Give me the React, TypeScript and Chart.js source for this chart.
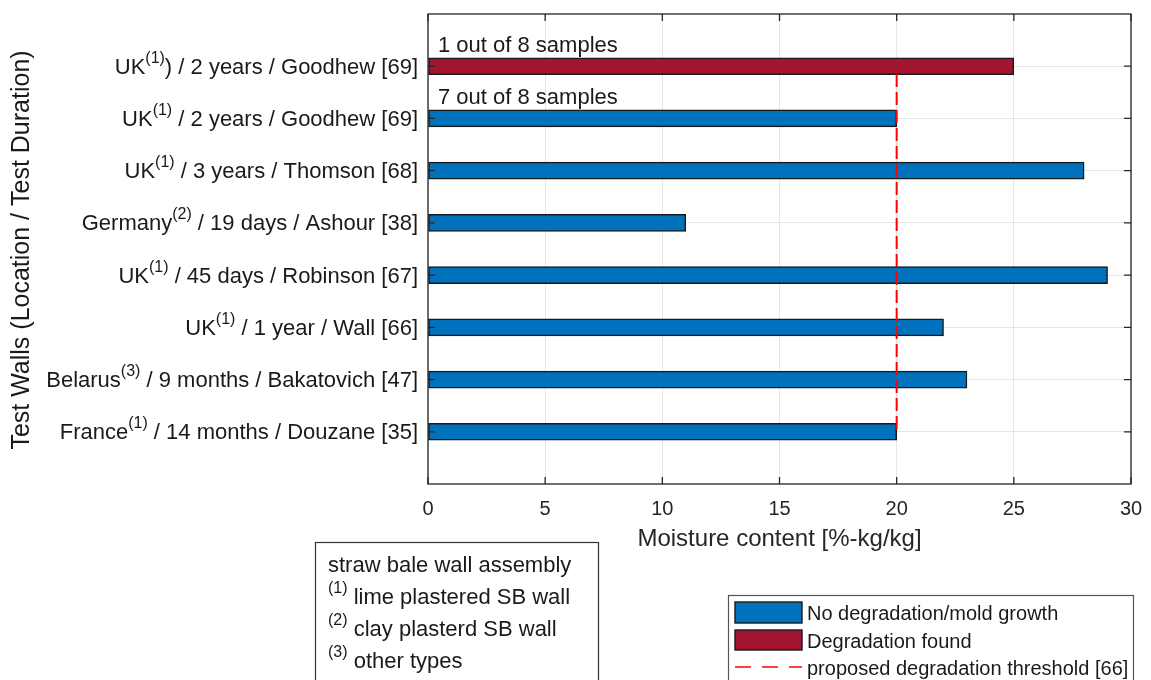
import React, { useEffect, useRef } from "react";
import { Chart, registerables } from "chart.js";

Chart.register(...registerables);

// ---- data ----
const labelBase = ["UK", "UK", "UK", "Germany", "UK", "UK", "Belarus", "France"];
const labelSup = ["(1)", "(1)", "(1)", "(2)", "(1)", "(1)", "(3)", "(1)"];
const labelRest = [
  ") / 2 years / Goodhew [69]",
  " / 2 years / Goodhew [69]",
  " / 3 years / Thomson [68]",
  " / 19 days / Ashour [38]",
  " / 45 days / Robinson [67]",
  " / 1 year / Wall [66]",
  " / 9 months / Bakatovich [47]",
  " / 14 months / Douzane [35]",
];
const moisture = [25, 20, 28, 11, 29, 22, 23, 20];
const degraded = [true, false, false, false, false, false, false, false];
const sampleNotes = ["1 out of 8 samples", "7 out of 8 samples", "", "", "", "", "", ""];
const xTickValues = [0, 5, 10, 15, 20, 25, 30];
const threshold = 20;
const thresholdSpan = [7.85, 1];
const noteTitle = "straw bale wall assembly";
const noteSup = ["(1)", "(2)", "(3)"];
const noteText = ["lime plastered SB wall", "clay plasterd SB wall", "other types"];
const legendLabels = [
  "No degradation/mold growth",
  "Degradation found",
  "proposed degradation threshold [66]",
];
const xTitle = "Moisture content [%-kg/kg]";
const yTitle = "Test Walls (Location / Test Duration)";

const BLUE = "#0072BD";
const RED = "#A2142F";
const TEXT = "#1a1a1a";
const FAMILY = '"Liberation Sans", Arial, Helvetica, sans-serif';
const N = labelBase.length;
const pos = (i: number) => N - i;

const font = (size: number) => `${size}px ${FAMILY}`;

function drawSup(
  ctx: CanvasRenderingContext2D,
  x: number,
  baseline: number,
  base: string,
  sup: string,
  rest: string,
  size: number,
  supSize: number,
  alignRight: boolean
) {
  ctx.font = font(size);
  const wBase = ctx.measureText(base).width;
  const wRest = ctx.measureText(rest).width;
  ctx.font = font(supSize);
  const wSup = ctx.measureText(sup).width;
  const total = wBase + wSup + wRest;
  let cx = alignRight ? x - total : x;
  ctx.textAlign = "left";
  ctx.textBaseline = "alphabetic";
  ctx.fillStyle = TEXT;
  ctx.font = font(size);
  ctx.fillText(base, cx, baseline);
  cx += wBase;
  ctx.font = font(supSize);
  ctx.fillText(sup, cx, baseline - 11);
  cx += wSup;
  ctx.font = font(size);
  ctx.fillText(rest, cx, baseline);
}

const decorPlugin = {
  id: "decor",
  afterDraw(chart: any) {
    const ctx: CanvasRenderingContext2D = chart.ctx;
    const area = chart.chartArea;
    const xs = chart.scales.x;
    const ys = chart.scales.y;
    ctx.save();

    // box around plot
    ctx.strokeStyle = "#262626";
    ctx.lineWidth = 1.3;
    ctx.setLineDash([]);
    ctx.strokeRect(area.left, area.top, area.right - area.left, area.bottom - area.top);

    // inward ticks
    ctx.beginPath();
    xTickValues.forEach((v) => {
      const px = xs.getPixelForValue(v);
      ctx.moveTo(px, area.bottom);
      ctx.lineTo(px, area.bottom - 7);
      ctx.moveTo(px, area.top);
      ctx.lineTo(px, area.top + 7);
    });
    labelBase.forEach((_, i) => {
      const py = ys.getPixelForValue(pos(i));
      ctx.moveTo(area.left, py);
      ctx.lineTo(area.left + 7, py);
      ctx.moveTo(area.right, py);
      ctx.lineTo(area.right - 7, py);
    });
    ctx.stroke();

    // y labels
    labelBase.forEach((b, i) => {
      const py = ys.getPixelForValue(pos(i));
      drawSup(ctx, area.left - 10, py + 7.5, b, labelSup[i], labelRest[i], 22, 16, true);
    });

    // sample notes
    ctx.font = font(22);
    ctx.fillStyle = TEXT;
    ctx.textAlign = "left";
    ctx.textBaseline = "alphabetic";
    sampleNotes.forEach((t, i) => {
      if (!t) return;
      const py = ys.getPixelForValue(pos(i));
      ctx.fillText(t, xs.getPixelForValue(0) + 10, py - 14);
    });

    // y title
    ctx.save();
    ctx.translate(22, 250);
    ctx.rotate(-Math.PI / 2);
    ctx.font = font(25);
    ctx.textAlign = "center";
    ctx.textBaseline = "middle";
    ctx.fillStyle = TEXT;
    ctx.fillText(yTitle, 0, 0);
    ctx.restore();

    // note box
    ctx.fillStyle = "#fff";
    ctx.fillRect(315.5, 542.5, 283, 200);
    ctx.strokeStyle = "#333";
    ctx.lineWidth = 1.2;
    ctx.strokeRect(315.5, 542.5, 283, 200);
    ctx.font = font(22);
    ctx.fillStyle = TEXT;
    ctx.textAlign = "left";
    ctx.fillText(noteTitle, 328, 572);
    noteSup.forEach((s, i) => {
      drawSup(ctx, 328, 604 + i * 32, "", s, " " + noteText[i], 22, 16, false);
    });

    // legend
    ctx.fillStyle = "#fff";
    ctx.fillRect(728.5, 595.5, 405, 120);
    ctx.strokeStyle = "#555";
    ctx.lineWidth = 1.2;
    ctx.strokeRect(728.5, 595.5, 405, 120);
    ctx.fillStyle = BLUE;
    ctx.fillRect(735, 602, 67, 21);
    ctx.strokeStyle = "#1a1a1a";
    ctx.lineWidth = 1.4;
    ctx.strokeRect(735, 602, 67, 21);
    ctx.fillStyle = RED;
    ctx.fillRect(735, 630, 67, 20);
    ctx.strokeRect(735, 630, 67, 20);
    ctx.strokeStyle = "#ff4040";
    ctx.lineWidth = 2;
    ctx.setLineDash([16, 11]);
    ctx.beginPath();
    ctx.moveTo(735, 667);
    ctx.lineTo(802, 667);
    ctx.stroke();
    ctx.setLineDash([]);
    ctx.font = font(20);
    ctx.fillStyle = TEXT;
    ctx.fillText(legendLabels[0], 807, 620);
    ctx.fillText(legendLabels[1], 807, 648);
    ctx.fillText(legendLabels[2], 807, 675);

    ctx.restore();
  },
};

export default function App() {
  const ref = useRef<HTMLCanvasElement | null>(null);
  useEffect(() => {
    if (!ref.current) return;
    const okData = moisture
      .map((v, i) => ({ x: v, y: pos(i), d: degraded[i] }))
      .filter((p) => !p.d)
      .map((p) => ({ x: p.x, y: p.y }));
    const badData = moisture
      .map((v, i) => ({ x: v, y: pos(i), d: degraded[i] }))
      .filter((p) => p.d)
      .map((p) => ({ x: p.x, y: p.y }));
    const chart = new Chart(ref.current, {
      type: "bar",
      data: {
        datasets: [
          {
            type: "line",
            label: legendLabels[2],
            data: thresholdSpan.map((y) => ({ x: threshold, y })),
            borderColor: "#ff0000",
            borderWidth: 2,
            borderDash: [13, 5],
            pointRadius: 0,
            order: 0,
          } as any,
          {
            label: legendLabels[0],
            data: okData,
            backgroundColor: BLUE,
            borderColor: "#1a1a1a",
            borderWidth: 1.5,
            borderSkipped: false,
            barThickness: 17,
            grouped: false,
            order: 1,
          } as any,
          {
            label: legendLabels[1],
            data: badData,
            backgroundColor: RED,
            borderColor: "#1a1a1a",
            borderWidth: 1.5,
            borderSkipped: false,
            barThickness: 17,
            grouped: false,
            order: 1,
          } as any,
        ],
      },
      options: {
        indexAxis: "y",
        animation: false,
        responsive: false,
        layout: { padding: { left: 0, right: 20, top: 14, bottom: 0 } },
        plugins: { legend: { display: false }, tooltip: { enabled: false } },
        scales: {
          x: {
            type: "linear",
            position: "bottom",
            min: 0,
            max: 30,
            afterBuildTicks: (s: any) => {
              s.ticks = xTickValues.map((v) => ({ value: v }));
            },
            afterFit: (s: any) => {
              s.height = 196;
              s.paddingRight = 0;
              s.paddingLeft = 0;
            },
            ticks: { font: { family: FAMILY, size: 20 }, color: "#262626", padding: 13 },
            grid: { color: "#e6e6e6", drawTicks: false },
            border: { display: false },
            title: {
              display: true,
              text: xTitle,
              color: "#262626",
              font: { family: FAMILY, size: 24 },
              padding: { top: 0, bottom: 126 },
            },
          },
          y: {
            type: "linear",
            min: 0,
            max: 9,
            offset: false,
            afterBuildTicks: (s: any) => {
              s.ticks = labelBase.map((_, i) => ({ value: pos(i) }));
            },
            afterFit: (s: any) => {
              s.width = 428;
            },
            ticks: { display: false },
            grid: { color: "#e6e6e6", drawTicks: false, offset: false },
            border: { display: false },
          },
        },
      } as any,
      plugins: [decorPlugin],
    });
    return () => chart.destroy();
  }, []);
  return (
    <div style={{ position: "absolute", left: 0, top: 0, width: 1151, height: 680, background: "#fff" }}>
      <canvas ref={ref} width={1151} height={680} style={{ display: "block" }} />
    </div>
  );
}
